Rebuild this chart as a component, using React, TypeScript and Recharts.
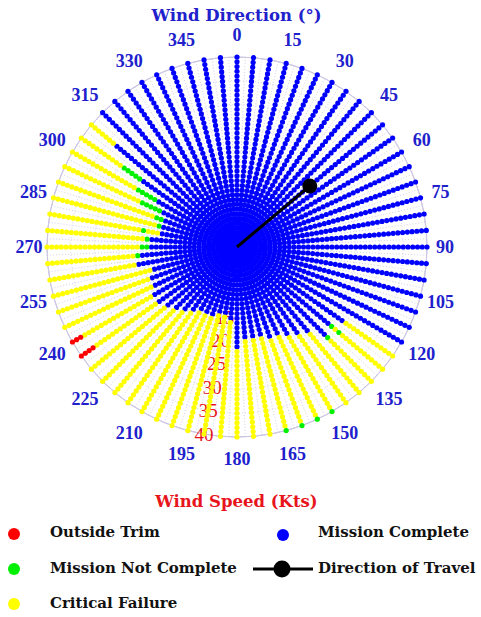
import React from 'react';
import { RadarChart, Radar, PolarGrid, PolarAngleAxis, PolarRadiusAxis } from 'recharts';

// ---------- data ----------
const directions = [
  0, 5, 10, 15, 20, 25, 30, 35, 40, 45, 50, 55, 60, 65, 70, 75, 80, 85,
  90, 95, 100, 105, 110, 115, 120, 125, 130, 135, 140, 145, 150, 155, 160, 165, 170, 175,
  180, 185, 190, 195, 200, 205, 210, 215, 220, 225, 230, 235, 240, 245, 250, 255, 260, 265,
  270, 275, 280, 285, 290, 295, 300, 305, 310, 315, 320, 325, 330, 335, 340, 345, 350, 355,
];

const speeds = [
  0, 1, 2, 3, 4, 5, 6, 7, 8, 9, 10, 11, 12, 13, 14, 15, 16, 17, 18, 19, 20,
  21, 22, 23, 24, 25, 26, 27, 28, 29, 30, 31, 32, 33, 34, 35, 36, 37, 38, 39, 40,
];

// highest wind speed (kts) at which the mission is complete, per direction
const missionCompleteMax = [
  40, 40, 40, 40, 40, 40, 40, 40, 40, 40, 40, 40, 40, 40, 40, 40, 40, 40,
  40, 40, 40, 40, 40, 40, 40, 27, 25, 26, 23, 22, 21, 20, 20, 19, 19, 19,
  21, 15, 14, 14, 15, 15, 15, 16, 17, 18, 19, 20, 20, 19, 19, 18, 21, 20,
  18, 18, 16, 16, 16, 17, 19, 24, 33, 40, 40, 40, 40, 40, 40, 40, 40, 40,
];

// [direction, speed]
const missionNotComplete: [number, number][] = [
  [130, 26], [130, 28], [135, 27],
  [150, 40], [155, 40], [160, 40], [165, 40],
  [265, 21], [270, 19], [270, 20], [275, 19], [280, 20], [285, 17],
  [290, 17], [290, 18],
  [295, 18], [295, 19], [295, 20], [295, 21], [295, 22],
  [300, 20], [300, 21], [300, 22], [300, 23], [300, 24],
  [305, 25], [305, 26], [305, 27], [305, 28], [305, 29],
];

const outsideTrim: [number, number][] = [
  [235, 37], [235, 38], [235, 39], [235, 40],
  [240, 38], [240, 39], [240, 40],
];

const travelDirection = 50;
const travelSpeed = 20;

const angleTicks = [0, 15, 30, 45, 60, 75, 90, 105, 120, 135, 150, 165, 180, 195, 210, 225, 240, 255, 270, 285, 300, 315, 330, 345];
const radiusTicks = [0, 5, 10, 15, 20, 25, 30, 35, 40];
const shownRadiusTicks = [15, 20, 25, 30, 35, 40];

// ---------- styling ----------
const W = 481;
const H = 617;
const CX = 237;
const CY = 247;
const R = 190;
const DOT_R = 2.6;

const COLORS: Record<string, string> = {
  trim: '#ff0000',
  notComplete: '#00f000',
  complete: '#0000ff',
  failure: '#ffff00',
};
const AXIS_BLUE = '#2020cc';
const AXIS_RED = '#e8141c';

type Status = 'trim' | 'notComplete' | 'complete' | 'failure';

const has = (list: [number, number][], d: number, s: number) =>
  list.some(([ld, ls]) => ld === d && ls === s);

const statusOf = (dirIdx: number, speed: number): Status => {
  const d = directions[dirIdx];
  if (has(outsideTrim, d, speed)) return 'trim';
  if (has(missionNotComplete, d, speed)) return 'notComplete';
  if (speed <= missionCompleteMax[dirIdx]) return 'complete';
  return 'failure';
};

const data = directions.map((dir, i) => {
  const row: Record<string, number | string> = {
    dir,
    travel: dir === travelDirection ? travelSpeed : 0,
  };
  speeds.forEach((s) => {
    row[`s${s}`] = s;
    row[`c${s}`] = statusOf(i, s);
  });
  return row;
});

const makeDot = (s: number) => (p: any) => {
  const st = data[p.index]?.[`c${s}`] as string;
  if (p.cx == null || p.cy == null) return <g key={`d-${s}-${p.index}`} />;
  return <circle key={`d-${s}-${p.index}`} cx={p.cx} cy={p.cy} r={DOT_R} fill={COLORS[st]} stroke="none" />;
};

const travelIdx = directions.indexOf(travelDirection);
// the arrow of travel: line from the chart centre to the travel point, then the point itself
const travelDot = (p: any) => {
  if (p.index !== travelIdx || p.cx == null) return <g key={`t-${p.index}`} />;
  const ox = p.payload?.cx ?? CX;
  const oy = p.payload?.cy ?? CY;
  return (
    <g key={`t-${p.index}`}>
      <line x1={ox} y1={oy} x2={p.cx} y2={p.cy} stroke="#000" strokeWidth={3} />
      <circle cx={p.cx} cy={p.cy} r={7.5} fill="#000" stroke="none" />
    </g>
  );
};

const tickValue = (payload: any) => {
  const v = payload?.value;
  if (v && typeof v === 'object' && 'value' in v) return Number(v.value);
  return Number(v);
};

const AngleTick = (props: any) => {
  const { x, y, payload } = props;
  const v = tickValue(payload);
  if (!angleTicks.includes(v)) return <g />;
  const dx = x - CX;
  const dy = y - CY;
  const len = Math.hypot(dx, dy) || 1;
  const ux = dx / len;
  const uy = dy / len;
  const r = 212 + 5 * Math.abs(2 * ux * uy) - 4 * ux * ux;
  return (
    <text
      x={CX + ux * r}
      y={CY + uy * r}
      textAnchor="middle"
      dominantBaseline="central"
      fontFamily="'Liberation Serif', serif"
      fontWeight="bold"
      fontSize={18}
      fill={AXIS_BLUE}
    >
      {v}
    </text>
  );
};

const RadiusTick = (props: any) => {
  const { x, y, payload } = props;
  const v = tickValue(payload);
  if (!shownRadiusTicks.includes(v)) return <g />;
  return (
    <text
      x={x}
      y={y}
      textAnchor="middle"
      dominantBaseline="central"
      fontFamily="'Liberation Serif', serif"
      fontSize={19}
      fill={AXIS_RED}
    >
      {v}
    </text>
  );
};

const gridAngles = directions.map((d) => 90 - d - 2.5);

const legendText: React.CSSProperties = {
  position: 'absolute',
  fontFamily: "'DejaVu Serif', serif",
  fontWeight: 'bold',
  fontSize: 15,
  lineHeight: '20px',
  color: '#111',
  whiteSpace: 'nowrap',
};

const Marker = ({ color, x, y }: { color: string; x: number; y: number }) => (
  <svg style={{ position: 'absolute', left: x - 7, top: y - 7 }} width={14} height={14}>
    <circle cx={7} cy={7} r={6} fill={color} />
  </svg>
);

export default function App() {
  return (
    <div style={{ position: 'absolute', left: 0, top: 0, width: W, height: H, background: '#fff' }}>
      <div
        style={{
          position: 'absolute',
          top: 6,
          left: 0,
          width: W - 8,
          textAlign: 'center',
          fontFamily: "'DejaVu Serif', serif",
          fontWeight: 'bold',
          fontSize: 16.5,
          lineHeight: '20px',
          color: AXIS_BLUE,
        }}
      >
        Wind Direction (°)
      </div>
      <div style={{ position: 'absolute', left: 0, top: 0 }}>
        <RadarChart
          width={W}
          height={480}
          data={data}
          cx={CX}
          cy={CY}
          outerRadius={R}
          innerRadius={0}
          startAngle={90}
          endAngle={-270}
          margin={{ top: 0, right: 0, bottom: 0, left: 0 }}
        >
          <PolarGrid
            gridType="circle"
            stroke="#d4d0e4"
            strokeDasharray="1 2"
            polarAngles={gridAngles}
          />
          <PolarGrid
            gridType="circle"
            stroke="#cdc6e4"
            radialLines={false}
            polarRadius={[R]}
          />
          <PolarAngleAxis
            dataKey="dir"
            type="number"
            domain={[0, 360]}
            ticks={angleTicks as any}
            tickCount={25}
            tick={AngleTick}
            tickLine={false}
            axisLineType="circle"
            axisLine={{ stroke: '#cdc6e4', strokeWidth: 1 }}
          />
          <PolarRadiusAxis
            type="number"
            domain={[0, 40]}
            ticks={radiusTicks as any}
            tickCount={9}
            angle={-100}
            axisLine={false}
            tickLine={false}
            tick={RadiusTick}
          />
          {speeds.map((s) => (
            <Radar
              key={`s${s}`}
              name={`s${s}`}
              dataKey={`s${s}`}
              stroke="none"
              fill="none"
              fillOpacity={0}
              dot={makeDot(s)}
              activeDot={false}
              legendType="none"
              isAnimationActive={false}
            />
          ))}
          <Radar
            name="Direction of Travel"
            dataKey="travel"
            stroke="none"
            fill="none"
            fillOpacity={0}
            dot={travelDot}
            activeDot={false}
            legendType="none"
            isAnimationActive={false}
          />
        </RadarChart>
      </div>

      <div
        style={{
          position: 'absolute',
          top: 492,
          left: 0,
          width: W - 8,
          textAlign: 'center',
          fontFamily: "'DejaVu Serif', serif",
          fontWeight: 'bold',
          fontSize: 16.5,
          lineHeight: '20px',
          color: AXIS_RED,
        }}
      >
        Wind Speed (Kts)
      </div>

      <Marker color={COLORS.trim} x={14} y={534} />
      <div style={{ ...legendText, left: 50, top: 522 }}>Outside Trim</div>
      <Marker color={COLORS.complete} x={283} y={535} />
      <div style={{ ...legendText, left: 318, top: 522 }}>Mission Complete</div>

      <Marker color={COLORS.notComplete} x={14} y={569} />
      <div style={{ ...legendText, left: 50, top: 558 }}>Mission Not Complete</div>
      <svg style={{ position: 'absolute', left: 250, top: 558 }} width={66} height={22}>
        <line x1={3} y1={11} x2={63} y2={11} stroke="#000" strokeWidth={3} />
        <circle cx={32} cy={11} r={8.5} fill="#000" />
      </svg>
      <div style={{ ...legendText, left: 318, top: 558 }}>Direction of Travel</div>

      <Marker color={COLORS.failure} x={14} y={604} />
      <div style={{ ...legendText, left: 50, top: 593 }}>Critical Failure</div>
    </div>
  );
}
